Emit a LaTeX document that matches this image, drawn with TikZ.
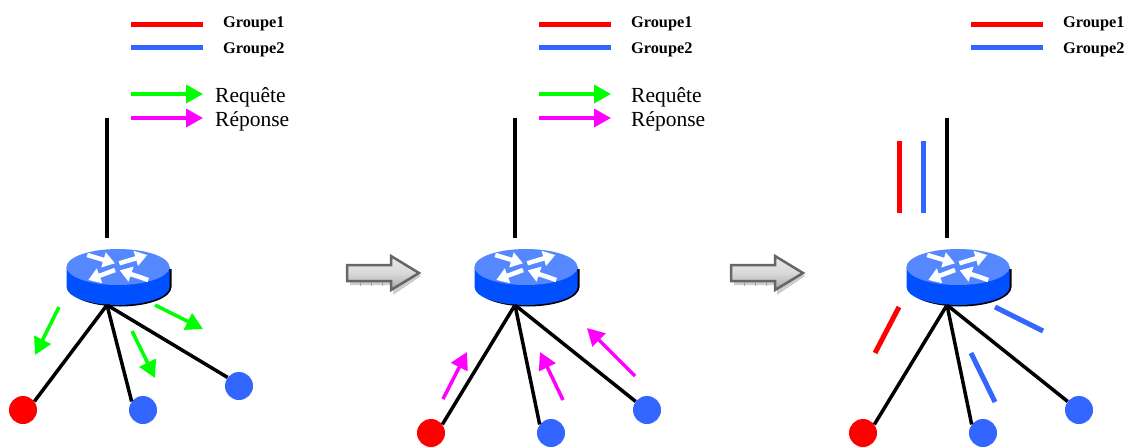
\documentclass[tikz,border=0pt]{standalone}
\usepackage{fontspec}
\setmainfont{Liberation Serif}
\usepackage{tikz}
\usetikzlibrary{arrows.meta}
\usetikzlibrary{positioning}
\definecolor{grpred}{HTML}{FF0000}
\definecolor{grpblue}{HTML}{3366FF}
\definecolor{reqgreen}{HTML}{00FF00}
\definecolor{repmagenta}{HTML}{FF00FF}
\definecolor{routertop}{HTML}{5588FF}
\definecolor{routerside}{HTML}{0050FF}
\tikzset{
  wire/.style={line width=3.5pt,black},
  leafred/.style={circle,fill=grpred,minimum size=28pt,inner sep=0pt},
  leafblue/.style={circle,fill=grpblue,minimum size=28pt,inner sep=0pt},
  barred/.style={line width=5pt,grpred},
  barblue/.style={line width=5pt,grpblue},
  reqarrow/.style={line width=3.5pt,reqgreen,-{Triangle[length=17pt,width=18pt]}},
  reparrow/.style={line width=3.5pt,repmagenta,-{Triangle[length=17pt,width=18pt]}},
  routerarrow/.style={line width=4.5pt,white,-{Triangle[length=12pt,width=15pt]}},
  grouplabel/.style={anchor=west,inner sep=0pt,font=\fontsize{16.3}{18}\selectfont\bfseries},
  arrowlabel/.style={anchor=west,inner sep=0pt,font=\fontsize{21.5}{24}\selectfont},
  pics/routerpic/.style={code={
    \fill[black] (-49.5,2)--(53.5,2)--(53.5,20) arc[start angle=0,end angle=-180,x radius=51.5pt,y radius=19.5pt]--cycle;
    \fill[routerside] (-51.5,0)--(51.5,0)--(51.5,20) arc[start angle=0,end angle=-180,x radius=51.5pt,y radius=18pt]--cycle;
    \fill[routertop] (0,0) ellipse[x radius=51.5pt,y radius=18pt];
    \draw[routerarrow] (-30.7,-12)--(-3,-3.7);
    \draw[routerarrow] (1.3,-3.7)--(29.3,-12);
    \draw[routerarrow] (-3,3)--(-29.7,13);
    \draw[routerarrow] (30.3,13)--(1.7,3.3);
  }},
  pics/bigarrow/.style={code={
    \fill[black!20] (3,11)--(46,11)--(46,2)--(74,20)--(46,39)--(46,29)--(3,29)--cycle;
    \draw[black!35,line width=.5pt] (13,25)--(13,30) (24,25)--(24,30) (35,25)--(35,30) (46,25)--(46,30);
    \draw[line width=2.5pt,black!60,top color=black!8,bottom color=black!35,middle color=black!15]
      (0,9)--(44,9)--(44,0)--(72,17)--(44,34)--(44,25)--(0,25)--cycle;
  }}
}

\begin{document}
\begin{tikzpicture}[x=1pt,y=-1pt]
\useasboundingbox (0,0) rectangle (1126,447);
% first network
\coordinate (upa) at (107,118);
\coordinate (downa) at (107,238);
\coordinate (huba) at (107,305);
\draw[wire] (upa)--(downa);
\pic at (118,267) {routerpic};
\node[leafred] (reda) at (23,410) {};
\node[leafblue] (bluea) at (143,410) {};
\node[leafblue] (bluec) at (239,386) {};
\draw[wire] (huba)--(reda.37);
\draw[wire] (huba)--(bluea.143);
\draw[wire] (huba)--(bluec.143);
\coordinate (qa) at (59,307);
\coordinate (qb) at (35,355);
\coordinate (qc) at (132,331);
\coordinate (qd) at (155,378);
\coordinate (qe) at (155,305);
\coordinate (qf) at (203,329);
\draw[reqarrow] (qa)--(qb);
\draw[reqarrow] (qc)--(qd);
\draw[reqarrow] (qe)--(qf);
% first legend
\coordinate (la) at (131,24);
\coordinate (lb) at (203,24);
\coordinate (lc) at (131,47);
\coordinate (ld) at (203,47);
\coordinate (le) at (131,94);
\coordinate (lf) at (203,94);
\coordinate (lg) at (131,118);
\coordinate (lh) at (203,118);
\draw[barred] (la)--(lb);
\draw[barblue] (lc)--(ld);
\draw[reqarrow] (le)--(lf);
\draw[reparrow] (lg)--(lh);
\node[grouplabel] (groupa) at (223,24) {Groupe1};
\node[grouplabel] (groupb) at (223,50) {Groupe2};
\node[arrowlabel] (reqa) at (215,97) {Requête};
\node[arrowlabel] (repa) at (215,121) {Réponse};
% arrows between
\pic at (347,256) {bigarrow};
\pic at (731,256) {bigarrow};
% second network
\coordinate (upb) at (515,118);
\coordinate (downb) at (515,238);
\coordinate (hubb) at (515,305);
\draw[wire] (upb)--(downb);
\pic at (526,267) {routerpic};
\node[leafred] (redb) at (431,433) {};
\node[leafblue] (blueb) at (551,433) {};
\node[leafblue] (blued) at (647,410) {};
\draw[wire] (hubb)--(redb.37);
\draw[wire] (hubb)--(blueb.143);
\draw[wire] (hubb)--(blued.143);
\coordinate (ra) at (443,399);
\coordinate (rb) at (467,352);
\coordinate (rc) at (563,400);
\coordinate (rd) at (540,352);
\coordinate (re) at (635,376);
\coordinate (rf) at (587,328);
\draw[reparrow] (ra)--(rb);
\draw[reparrow] (rc)--(rd);
\draw[reparrow] (re)--(rf);
% second legend
\coordinate (ma) at (539,24);
\coordinate (mb) at (611,24);
\coordinate (mc) at (539,47);
\coordinate (md) at (611,47);
\coordinate (me) at (539,94);
\coordinate (mf) at (611,94);
\coordinate (mg) at (539,118);
\coordinate (mh) at (611,118);
\draw[barred] (ma)--(mb);
\draw[barblue] (mc)--(md);
\draw[reqarrow] (me)--(mf);
\draw[reparrow] (mg)--(mh);
\node[grouplabel] (groupc) at (631,24) {Groupe1};
\node[grouplabel] (groupd) at (631,50) {Groupe2};
\node[arrowlabel] (reqb) at (631,97) {Requête};
\node[arrowlabel] (repb) at (631,121) {Réponse};
% third network
\coordinate (upc) at (947,118);
\coordinate (downc) at (947,238);
\coordinate (hubc) at (947,305);
\draw[wire] (upc)--(downc);
\pic at (958,267) {routerpic};
\node[leafred] (redc) at (863,433) {};
\node[leafblue] (bluee) at (983,433) {};
\node[leafblue] (bluef) at (1079,410) {};
\draw[wire] (hubc)--(redc.37);
\draw[wire] (hubc)--(bluee.143);
\draw[wire] (hubc)--(bluef.143);
\coordinate (sa) at (899,141);
\coordinate (sb) at (899,213);
\coordinate (sc) at (923,141);
\coordinate (sd) at (923,213);
\coordinate (se) at (899,307);
\coordinate (sf) at (875,353);
\coordinate (sg) at (971,353);
\coordinate (sh) at (995,402);
\coordinate (si) at (995,307);
\coordinate (sj) at (1043,331);
\draw[barred] (sa)--(sb);
\draw[barblue] (sc)--(sd);
\draw[barred] (se)--(sf);
\draw[barblue] (sg)--(sh);
\draw[barblue] (si)--(sj);
% third legend
\coordinate (na) at (971,24);
\coordinate (nb) at (1043,24);
\coordinate (nc) at (971,47);
\coordinate (nd) at (1043,47);
\draw[barred] (na)--(nb);
\draw[barblue] (nc)--(nd);
\node[grouplabel] (groupe) at (1063,24) {Groupe1};
\node[grouplabel] (groupf) at (1063,50) {Groupe2};
\end{tikzpicture}
\end{document}
